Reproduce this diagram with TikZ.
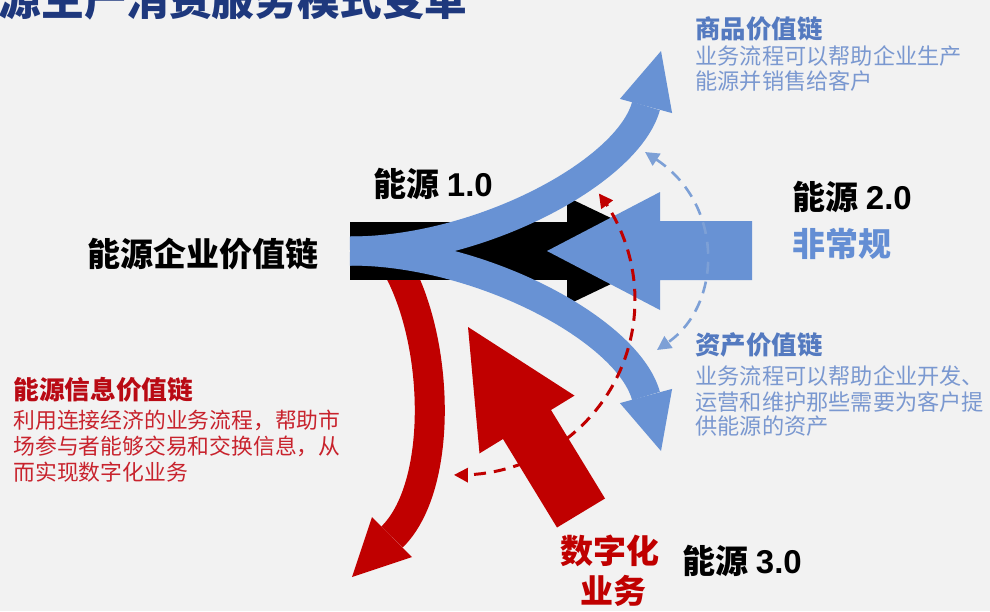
\documentclass[tikz,border=0pt]{standalone}
\usepackage{fontspec}
\newfontfamily\cjk{Noto Sans CJK SC}
\newfontfamily\lat{Liberation Sans}
\usetikzlibrary{arrows.meta}
\definecolor{bg}{RGB}{242,242,242}
\definecolor{arrblue}{RGB}{104,146,212}
\definecolor{arrred}{RGB}{192,0,0}
\definecolor{titleblue}{RGB}{30,56,125}
\definecolor{headblue}{RGB}{84,122,192}
\definecolor{bodyblue}{RGB}{122,152,208}
\definecolor{dashblue}{RGB}{125,160,214}
\definecolor{labblue}{RGB}{100,142,212}
\definecolor{headred}{RGB}{185,10,20}
\definecolor{bodyred}{RGB}{200,35,45}
\begin{document}
\begin{tikzpicture}[x=0.5pt,y=-0.5pt,
  txt/.style={inner sep=0pt, anchor=base west},
  headf/.style={font=\cjk\bfseries\fontsize{12.7pt}{15pt}\selectfont},
  bodyf/.style={font=\cjk\fontsize{11.1pt}{13pt}\selectfont},
  bigf/.style={font=\cjk\bfseries\fontsize{16.5pt}{19pt}\selectfont},
  tipA/.tip={Triangle[length=7pt,width=7pt]},
  dashline/.style={line width=1.5pt, dash pattern=on 6pt off 4pt}]
\useasboundingbox (0,0) rectangle (990,611);
\clip (0,0) rectangle (990,611);
\fill[bg] (0,0) rectangle (990,611);

% title (cut off at top, as in the reference)
\node[txt, font=\cjk\bfseries\fontsize{21.3pt}{24pt}\selectfont, text=titleblue] (title) at (-44,15) {能源生产消费服务模式变革};

% red curved arrow (left)
\draw[arrred, line width=15pt] (400,272) .. controls (440,350) and (442,488) .. (392,537);
\fill[arrred] (412,557) -- (352,577) -- (372,517) -- cycle;

% black arrow (energy 1.0)
\fill[black] (350,222) rectangle (567,280);
\fill[black] (567,197) -- (680,251) -- (567,305) -- cycle;

% blue branches
\draw[arrblue, line width=14.5pt] (350,251) .. controls (480,251) and (628,172) .. (646,106);
\fill[arrblue] (672.1,113.1) -- (661,51) -- (619.9,98.9) -- cycle;
\draw[arrblue, line width=14.5pt] (350,251) .. controls (480,251) and (628,330) .. (646,396);
\fill[arrblue] (672.1,388.9) -- (661,451) -- (619.9,403.1) -- cycle;

% blue left arrow (energy 2.0)
\fill[arrblue] (752,221) -- (660,221) -- (660,192) -- (547,251) -- (660,310) -- (660,280) -- (752,280) -- cycle;

% dashed arcs
\draw[arrred, dashline, {tipA}-{tipA}] plot[domain=92:-37.5, samples=60] ({460+175*cos(\x)},{300+175*sin(\x)});
\draw[dashblue, dashline, line width=1.3pt, {tipA}-{tipA}] (645,152) .. controls (725,205) and (722,305) .. (657,350);

% big red arrow (digital)
\fill[arrred] (605,498.5) -- (551,410) -- (574.5,395.6) -- (468,327) -- (479.5,453.4) -- (503,439) -- (557,527.5) -- cycle;

% text blocks
\node[txt, headf, text=headblue] (hA) at (695,38) {商品价值链};
\node[txt, bodyf, text=bodyblue] (bA1) at (695,64) {业务流程可以帮助企业生产};
\node[txt, bodyf, text=bodyblue] (bA2) at (695,89.5) {能源并销售给客户};

\node[txt, headf, text=headblue] (hB) at (695,354) {资产价值链};
\node[txt, bodyf, text=bodyblue] (bB1) at (695,384) {业务流程可以帮助企业开发、};
\node[txt, bodyf, text=bodyblue] (bB2) at (695,410) {运营和维护那些需要为客户提};
\node[txt, bodyf, text=bodyblue] (bB3) at (695,434) {供能源的资产};

\node[txt, font=\cjk\bfseries\fontsize{12.85pt}{15pt}\selectfont, text=headred] (hC) at (13,399) {能源信息价值链};
\node[txt, font=\cjk\fontsize{10.9pt}{13pt}\selectfont, text=bodyred] (bC1) at (13,428) {利用连接经济的业务流程，帮助市};
\node[txt, font=\cjk\fontsize{10.9pt}{13pt}\selectfont, text=bodyred] (bC2) at (13,454) {场参与者能够交易和交换信息，从};
\node[txt, font=\cjk\fontsize{10.9pt}{13pt}\selectfont, text=bodyred] (bC3) at (13,480.5) {而实现数字化业务};

\node[txt, bigf] (lmain) at (87,266) {能源企业价值链};
\node[txt, bigf] (l1) at (373,196) {能源 {\lat\bfseries 1.0}};
\node[txt, bigf] (l2) at (792,209) {能源 {\lat\bfseries 2.0}};
\node[txt, bigf, text=labblue] (l2b) at (792,256) {非常规};
\node[txt, bigf] (l3) at (682,573) {能源 {\lat\bfseries 3.0}};
\node[txt, bigf, text=arrred] (d1) at (560,563) {数字化};
\node[txt, bigf, text=arrred] (d2) at (580,603) {业务};
\end{tikzpicture}
\end{document}
